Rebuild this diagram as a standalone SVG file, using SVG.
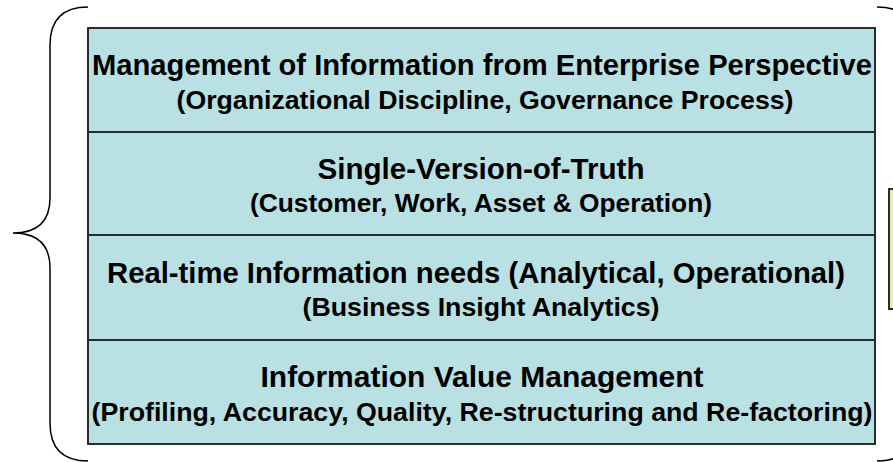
<svg xmlns="http://www.w3.org/2000/svg" width="893" height="462" viewBox="0 0 893 462">
<style>
.box{fill:#b9e0e3;stroke:#2b2b2b;stroke-width:2}
.t1{font-family:"Liberation Sans",Arial,sans-serif;font-weight:bold;font-size:29px;fill:#000;text-anchor:middle}
.t2{font-family:"Liberation Sans",Arial,sans-serif;font-weight:bold;font-size:25px;fill:#000;text-anchor:middle}
.brace{fill:none;stroke:#000;stroke-width:1.5}
</style>
<rect width="893" height="462" fill="#fff"/>
<g id="connectors">
<path class="brace" d="M88 7 Q50 7 50 45 L50 198 Q50 233 13 233 Q50 233 50 268 L50 423 Q50 461 88 461"/>
<path class="brace" d="M877 7 Q915 7 915 45 L915 198 Q915 233 952 233 Q915 233 915 268 L915 423 Q915 461 877 461"/>
</g>
<g id="layer1">
<rect class="box" x="88" y="28" width="787" height="104"/>
<text class="t1" x="482" y="75" textLength="780" lengthAdjust="spacingAndGlyphs">Management of Information from Enterprise Perspective</text>
<text class="t2" x="485" y="109" textLength="617" lengthAdjust="spacingAndGlyphs">(Organizational Discipline, Governance Process)</text>
</g>
<g id="layer2">
<rect class="box" x="88" y="132" width="787" height="103"/>
<text class="t1" x="481" y="179" textLength="327" lengthAdjust="spacingAndGlyphs">Single-Version-of-Truth</text>
<text class="t2" x="481" y="212" textLength="462" lengthAdjust="spacingAndGlyphs">(Customer, Work, Asset &amp; Operation)</text>
</g>
<g id="layer3">
<rect class="box" x="88" y="235" width="787" height="105"/>
<text class="t1" x="476" y="283" textLength="738" lengthAdjust="spacingAndGlyphs">Real-time Information needs (Analytical, Operational)</text>
<text class="t2" x="481" y="316" textLength="357" lengthAdjust="spacingAndGlyphs">(Business Insight Analytics)</text>
</g>
<g id="layer4">
<rect class="box" x="88" y="340" width="787" height="104"/>
<text class="t1" x="482" y="387" textLength="443" lengthAdjust="spacingAndGlyphs">Information Value Management</text>
<text class="t2" x="482" y="421" textLength="781" lengthAdjust="spacingAndGlyphs">(Profiling, Accuracy, Quality, Re-structuring and Re-factoring)</text>
</g>
<g id="note">
<rect x="889" y="189" width="40" height="120" fill="#e6efb6" stroke="#2b2b2b" stroke-width="2"/>
</g>
</svg>
